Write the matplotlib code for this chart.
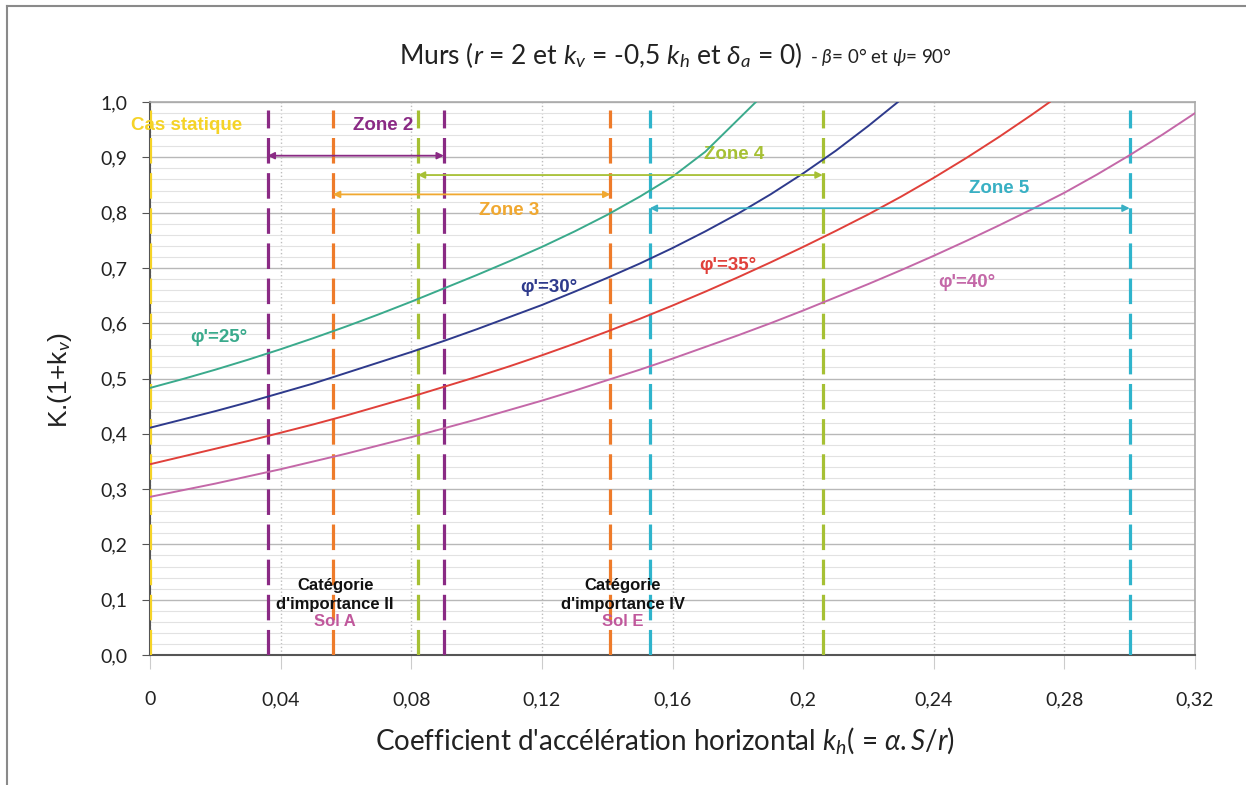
import matplotlib.pyplot as plt
from matplotlib.ticker import MultipleLocator
from matplotlib.lines import Line2D

plt.rcParams['mathtext.fontset'] = 'custom'
plt.rcParams['mathtext.rm'] = 'Lato'
plt.rcParams['mathtext.it'] = 'Lato:italic'

# Curves K.(1+kv)
kh_25 = [0, 0.01, 0.02, 0.03, 0.04, 0.05, 0.06, 0.07, 0.08, 0.09, 0.10, 0.11, 0.12,
         0.13, 0.14, 0.15, 0.16, 0.17, 0.18, 0.1855]
K_25 = [0.483, 0.499, 0.516, 0.534, 0.553, 0.573, 0.594, 0.616, 0.639, 0.663, 0.687, 0.712, 0.738,
        0.766, 0.796, 0.829, 0.865, 0.910, 0.968, 1.0]

kh_30 = [0, 0.01, 0.02, 0.03, 0.04, 0.05, 0.06, 0.07, 0.08, 0.09, 0.10, 0.11, 0.12,
         0.13, 0.14, 0.15, 0.16, 0.17, 0.18, 0.19, 0.20, 0.21, 0.22, 0.229]
K_30 = [0.411, 0.426, 0.441, 0.457, 0.474, 0.491, 0.510, 0.529, 0.548, 0.568, 0.589, 0.611, 0.633,
        0.657, 0.682, 0.708, 0.736, 0.766, 0.798, 0.833, 0.871, 0.912, 0.957, 1.0]

kh_35 = [0, 0.01, 0.02, 0.03, 0.04, 0.05, 0.06, 0.07, 0.08, 0.09, 0.10, 0.11, 0.12,
         0.13, 0.14, 0.15, 0.16, 0.17, 0.18, 0.19, 0.20, 0.21, 0.22, 0.23, 0.24,
         0.25, 0.26, 0.27, 0.2755]
K_35 = [0.345, 0.359, 0.373, 0.387, 0.402, 0.417, 0.433, 0.450, 0.467, 0.485, 0.503, 0.522, 0.542,
        0.563, 0.585, 0.608, 0.632, 0.657, 0.683, 0.710, 0.738, 0.767, 0.797, 0.829, 0.863,
        0.899, 0.937, 0.977, 1.0]

kh_40 = [0, 0.01, 0.02, 0.03, 0.04, 0.05, 0.06, 0.07, 0.08, 0.09, 0.10, 0.11, 0.12,
         0.13, 0.14, 0.15, 0.16, 0.17, 0.18, 0.19, 0.20, 0.21, 0.22, 0.23, 0.24,
         0.25, 0.26, 0.27, 0.28, 0.29, 0.30, 0.31, 0.32]
K_40 = [0.286, 0.298, 0.310, 0.323, 0.336, 0.350, 0.364, 0.379, 0.394, 0.410, 0.426, 0.443, 0.460,
        0.478, 0.497, 0.516, 0.536, 0.557, 0.578, 0.600, 0.623, 0.647, 0.671, 0.696, 0.722,
        0.749, 0.777, 0.806, 0.836, 0.869, 0.904, 0.941, 0.980]

curve_labels = ["φ'=25°", "φ'=30°", "φ'=35°", "φ'=40°"]
curve_colors = ['#3aaa8c', '#2e3a8c', '#e0403a', '#c468a8']
label_kh = [0.0211, 0.1222, 0.177, 0.250]
label_K = [0.575, 0.664, 0.705, 0.673]

# vertical limit lines (kh values)
limit_kh = [0, 0.036, 0.056, 0.082, 0.09, 0.141, 0.153, 0.206, 0.30]
limit_colors = ['#f5d327', '#8a2a84', '#ee7b2a', '#a6c034', '#8a2a84',
                '#ee7b2a', '#2fb4cc', '#a6c034', '#2fb4cc']

# zones
zone_names = ['Zone 2', 'Zone 3', 'Zone 4', 'Zone 5']
zone_start = [0.036, 0.056, 0.082, 0.153]
zone_end = [0.09, 0.141, 0.206, 0.30]
zone_y = [0.903, 0.833, 0.868, 0.808]
zone_colors = ['#8a2a84', '#f0a830', '#a6c034', '#38b0c4']
zone_text_kh = [0.0713, 0.110, 0.179, 0.260]
zone_text_K = [0.957, 0.803, 0.906, 0.843]

fig = plt.figure(figsize=(12.46, 7.85), dpi=100)
ax = fig.add_axes([0.1204, 0.1656, 0.8387, 0.7044])

# grid
ax.yaxis.set_major_locator(MultipleLocator(0.1))
ax.yaxis.set_minor_locator(MultipleLocator(0.02))
ax.xaxis.set_major_locator(MultipleLocator(0.04))
ax.grid(which='major', axis='y', color='#b8b8b8', lw=1.0)
ax.grid(which='minor', axis='y', color='#e2e2e2', lw=0.8)
ax.grid(which='major', axis='x', color='#bdbdbd', lw=1.0, ls=':')
ax.set_axisbelow(True)

# vertical dashed limits
for x, c in zip(limit_kh, limit_colors):
    ax.plot([x, x], [0, 0.985], color=c, lw=2.3, dashes=(8, 3), zorder=3)

# curves
for xs, ys, c in zip([kh_25, kh_30, kh_35, kh_40], [K_25, K_30, K_35, K_40], curve_colors):
    ax.plot(xs, ys, color=c, lw=1.4, zorder=4)

# zone arrows
for x0, x1, y, c in zip(zone_start, zone_end, zone_y, zone_colors):
    ax.annotate('', xy=(x1, y), xytext=(x0, y),
                arrowprops=dict(arrowstyle='<|-|>', color=c, lw=1.3,
                                mutation_scale=10, shrinkA=0, shrinkB=0), zorder=5)

lab_font = dict(family='Liberation Sans', weight='bold')
for x, y, name, c in zip(zone_text_kh, zone_text_K, zone_names, zone_colors):
    ax.text(x, y, name, color=c, fontsize=13.5, ha='center', va='center', **lab_font)
ax.text(0.0113, 0.957, 'Cas statique', color='#f5d327', fontsize=13.5, ha='center', va='center',
        clip_on=False, **lab_font)

for x, y, name, c in zip(label_kh, label_K, curve_labels, curve_colors):
    ax.text(x, y, name, color=c, fontsize=13.5, ha='center', va='center', **lab_font)

for xc, cat, sol in [(0.0567, "Catégorie\nd'importance II", 'Sol A'),
                     (0.1448, "Catégorie\nd'importance IV", 'Sol E')]:
    ax.text(xc, 0.109, cat, color='#111111', fontsize=12, ha='center', va='center',
            linespacing=1.3, zorder=6, **lab_font)
    ax.text(xc, 0.060, sol, color='#c0589c', fontsize=12, ha='center', va='center', zorder=6, **lab_font)

ax.set_xlim(0, 0.32)
ax.set_ylim(0, 1.0)
ax.set_xticks([0, 0.04, 0.08, 0.12, 0.16, 0.2, 0.24, 0.28, 0.32])
ax.set_xticklabels(['0', '0,04', '0,08', '0,12', '0,16', '0,2', '0,24', '0,28', '0,32'],
                   family='Lato', fontsize=14, color='#222222')
ax.set_yticks([i / 10 for i in range(11)])
ax.set_yticklabels(['%d,%d' % (i // 10, i % 10) for i in range(11)],
                   family='Lato', fontsize=14, color='#222222')
ax.tick_params(axis='x', which='major', length=10, color='#cccccc', pad=16)
ax.tick_params(axis='y', which='major', length=6, color='#555555', pad=10)
ax.tick_params(axis='y', which='minor', length=0)

for s in ['left', 'bottom']:
    ax.spines[s].set_color('#555555')
    ax.spines[s].set_linewidth(1.5)
for s in ['top', 'right']:
    ax.spines[s].set_color('#aaaaaa')
    ax.spines[s].set_linewidth(1.2)

# titles and labels
fig.text(0.644, 0.930, r"Murs ($r$ = 2 et $k_v$ = -0,5 $k_h$ et $\delta_a$ = 0)",
         family='Lato', fontsize=19, ha='right', va='center', color='#222222')
fig.text(0.650, 0.927, r"- $\beta$= 0° et $\psi$= 90°",
         family='Lato', fontsize=13.5, ha='left', va='center', color='#222222')
fig.text(0.534, 0.057, r"Coefficient d'accélération horizontal $k_h$( = $\alpha.S/r$)",
         family='Lato', fontsize=20, ha='center', va='center', color='#222222')
fig.text(0.048, 0.516, r"K.(1+k$_v$)", family='Liberation Sans', fontsize=19,
         rotation=90, ha='center', va='center', color='#222222')

# outer frame
fig.add_artist(Line2D([7 / 1246, 7 / 1246], [0, 1 - 6 / 785], color='#8a8a8a', lw=1.5))
fig.add_artist(Line2D([7 / 1246, 1], [1 - 6 / 785, 1 - 6 / 785], color='#8a8a8a', lw=1.5))

plt.savefig('out.png', dpi=100)
